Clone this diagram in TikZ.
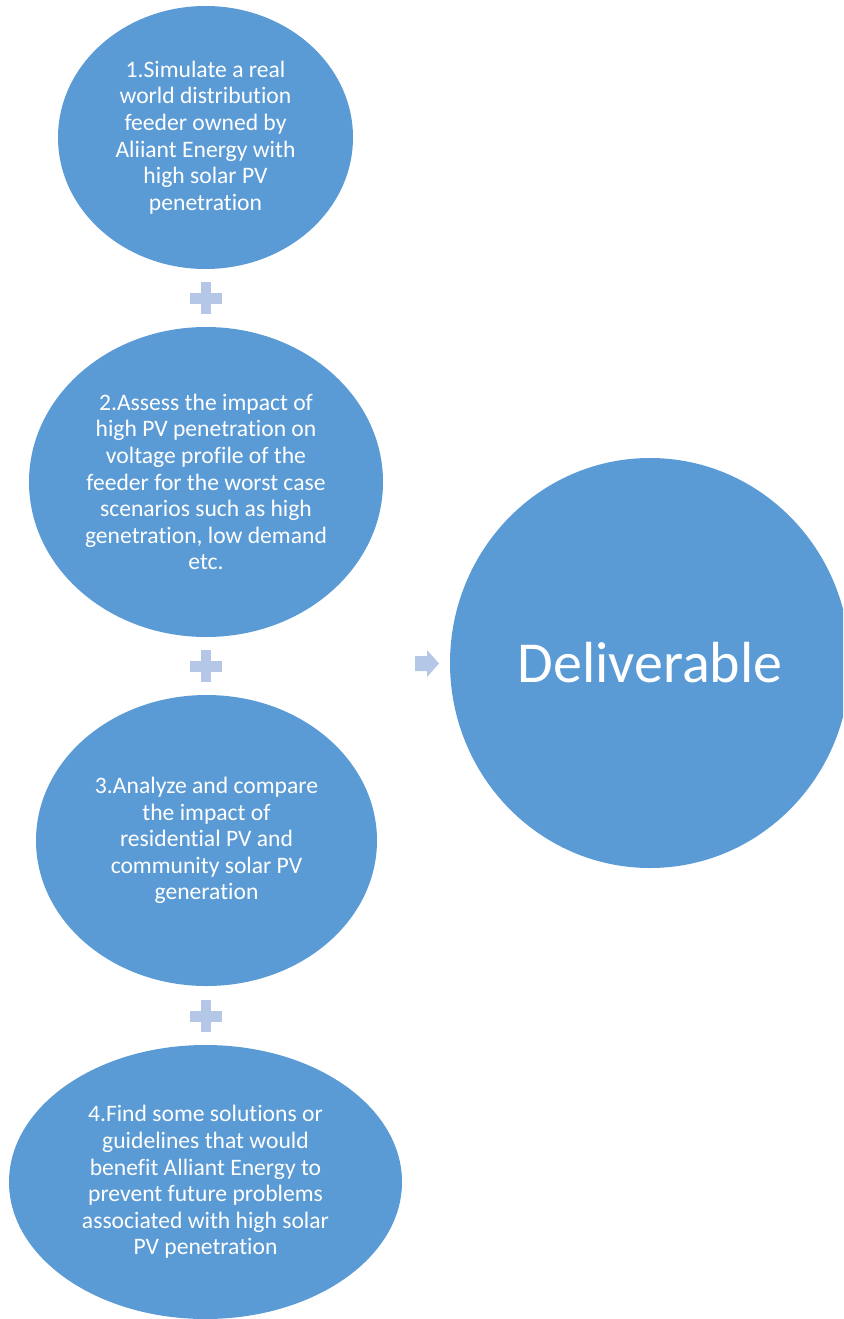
\documentclass[tikz,border=0pt]{standalone}
\usepackage{fontspec}
\setmainfont{Carlito}[Ligatures=NoCommon]
\usetikzlibrary{shapes.geometric}
\definecolor{stepblue}{HTML}{5B9BD5}
\definecolor{signblue}{HTML}{B4C7E7}
\tikzset{
  stepbox/.style={ellipse, fill=stepblue, draw=none, inner sep=0pt,
    text=white, align=center,
    font=\fontsize{23.6}{26.6}\selectfont},
  goalbox/.style={ellipse, fill=stepblue, draw=none, inner sep=0pt,
    text=white, font=\fontsize{58}{66}\selectfont},
  plussign/.pic={
    \fill[signblue] (-5pt,-16pt) rectangle (5pt,16pt);
    \fill[signblue] (-16pt,-5.5pt) rectangle (16pt,5.5pt);
  },
  arrowsign/.pic={
    \fill[signblue] (-12pt,-7.5pt) -- (0pt,-7.5pt) -- (0pt,-13.5pt)
      -- (12pt,0pt) -- (0pt,13.5pt) -- (0pt,7.5pt) -- (-12pt,7.5pt) -- cycle;
  }
}
\begin{document}
\begin{tikzpicture}[x=1pt,y=-1pt]
  \useasboundingbox (0,0) rectangle (843,1319);
  \begin{scope}
    \clip (0,0) rectangle (843,1319);

    % four steps
    \node[stepbox, minimum width=295pt, minimum height=263pt] (s1) at (205.5,137.5)
      {1.Simulate a real\\world distribution\\feeder owned by\\Aliiant Energy with\\high solar PV\\penetration};
    \node[stepbox, minimum width=354pt, minimum height=310pt] (s2) at (206,482)
      {2.Assess the impact of\\high PV penetration on\\voltage profile of the\\feeder for the worst case\\scenarios such as high\\genetration, low demand\\etc.};
    \node[stepbox, minimum width=341pt, minimum height=291pt] (s3) at (206.5,840.5)
      {3.Analyze and compare\\the impact of\\residential PV and\\community solar PV\\generation};
    \node[stepbox, minimum width=393pt, minimum height=274pt] (s4) at (205.5,1182)
      {4.Find some solutions or\\guidelines that would\\benefit Alliant Energy to\\prevent future problems\\associated with high solar\\PV penetration};

    % result
    \node[goalbox, minimum width=400pt, minimum height=410pt] (goal) at (650,663)
      {Deliverable};

    % plus signs between the steps, arrow towards the result
    \pic at (206,298) {plussign};
    \pic at (206,666) {plussign};
    \pic at (206,1016) {plussign};
    \pic at (427,663.5) {arrowsign};
  \end{scope}
\end{tikzpicture}
\end{document}
